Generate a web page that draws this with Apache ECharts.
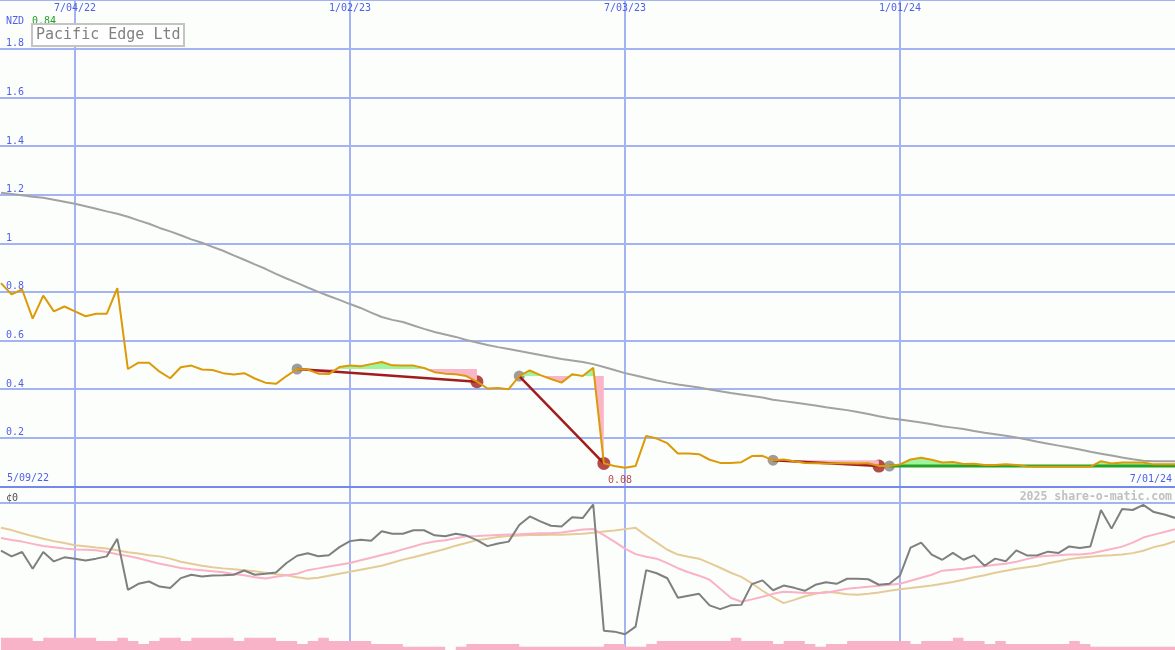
<!DOCTYPE html>
<html><head><meta charset="utf-8">
<script src="https://cdn.jsdelivr.net/npm/echarts@6/dist/echarts.min.js"></script>
<style>html,body{margin:0;padding:0;background:#fcfefb}#c{width:1175px;height:650px}</style>
</head><body><div id="c"></div>
<script>
// ---- data (weekly points, week 0 = 7/04/22) ----
const FIRST_WEEK = -7;
const PRICE = [
  0.836,0.79,0.81,0.69,0.785,0.72,0.74,0.72,0.70,0.71,
  0.71,0.815,0.483,0.509,0.509,0.472,0.445,0.49,0.497,0.481,
  0.479,0.466,0.46,0.466,0.444,0.427,0.422,0.454,0.483,0.481,
  0.464,0.462,0.491,0.497,0.494,0.503,0.512,0.498,0.497,0.497,
  0.487,0.47,0.464,0.461,0.454,0.431,0.403,0.405,0.40,0.454,
  0.477,0.458,0.442,0.427,0.461,0.454,0.488,0.095,0.084,0.077,
  0.084,0.208,0.197,0.178,0.136,0.136,0.133,0.110,0.097,0.097,
  0.10,0.125,0.126,0.108,0.111,0.104,0.097,0.096,0.095,0.096,
  0.096,0.095,0.096,0.084,0.084,0.091,0.111,0.118,0.110,0.099,
  0.101,0.093,0.094,0.088,0.088,0.091,0.088,0.082,0.081,0.081,
  0.081,0.081,0.081,0.081,0.104,0.095,0.099,0.099,0.099,0.091,
  0.091,0.091
];
const PRICE_MA = [
  1.208,1.203,1.197,1.191,1.187,1.179,1.171,1.162,1.152,1.142,
  1.131,1.121,1.109,1.094,1.080,1.063,1.049,1.033,1.016,1.002,
  0.985,0.969,0.950,0.932,0.913,0.895,0.874,0.855,0.837,0.818,
  0.800,0.783,0.767,0.750,0.734,0.715,0.697,0.685,0.676,0.662,
  0.648,0.635,0.625,0.615,0.602,0.592,0.582,0.573,0.565,0.557,
  0.549,0.541,0.532,0.524,0.518,0.512,0.503,0.491,0.479,0.466,
  0.456,0.446,0.436,0.427,0.419,0.413,0.407,0.399,0.392,0.384,
  0.378,0.372,0.366,0.357,0.351,0.345,0.339,0.333,0.326,0.320,
  0.314,0.306,0.298,0.289,0.281,0.275,0.269,0.263,0.256,0.248,
  0.242,0.236,0.228,0.221,0.215,0.209,0.201,0.193,0.184,0.176,
  0.168,0.160,0.152,0.143,0.135,0.127,0.119,0.112,0.106,0.104,
  0.104,0.104
];
const OSC = [
  -29.4,-32.9,-30.2,-40.5,-30.2,-36,-33.5,-34.3,-35.4,-34.3,
  -32.9,-22.1,-53.5,-49.8,-48.4,-51.5,-52.4,-46.3,-44.2,-45.3,
  -44.7,-44.5,-44.2,-41.6,-44.2,-43.6,-42.8,-37,-32.5,-31,
  -32.8,-32.2,-27.2,-23.5,-22.6,-23.2,-17.4,-18.9,-19,-16.8,
  -16.8,-19.9,-20.5,-18.9,-20.1,-22.9,-26.6,-25,-23.8,-13.6,
  -8.3,-11.3,-14,-14.5,-8.8,-9.3,-0.9,-78.7,-79.3,-80.9,
  -76.2,-41.4,-43.3,-46.4,-58.4,-57.2,-56,-63.1,-65.4,-63.1,
  -62.8,-50,-47.7,-53.8,-50.9,-52.3,-54.1,-50.4,-48.8,-49.8,
  -46.7,-46.7,-47,-50.4,-49.8,-44.7,-27.5,-24.4,-31.8,-35,
  -30.8,-35,-32.3,-38.7,-34.3,-35.9,-29.2,-32.3,-32.2,-30,
  -30.8,-26.8,-27.8,-26.8,-4.3,-15.8,-3.7,-4.3,-1.2,-5.6,
  -7.1,-9.2
];
const OSC_MA_FAST = [
  -21.6,-22.8,-23.8,-25.2,-26.5,-27.3,-28.1,-28.6,-28.8,-29.1,
  -30.2,-31.6,-32.7,-34.1,-35.7,-37.4,-38.7,-40.1,-40.9,-41.4,
  -42.0,-42.7,-43.7,-44.6,-45.8,-46.5,-45.5,-44.5,-43.6,-41.4,
  -40.3,-39.1,-38.0,-37.0,-35.3,-33.7,-32.1,-30.5,-28.6,-26.8,
  -24.9,-23.8,-22.9,-21.7,-20.5,-20.3,-20.0,-19.7,-19.4,-19.2,
  -18.9,-18.7,-18.6,-18.2,-17.3,-16.4,-16.1,-19.8,-23.8,-28.1,
  -31.5,-33.1,-34.3,-37.1,-40.2,-42.7,-44.8,-47.3,-52.9,-58.4,
  -60.9,-59.4,-57.8,-56.0,-54.7,-55.0,-55.5,-55.5,-55.3,-54.1,
  -52.9,-52.3,-51.6,-51.0,-50.4,-49.8,-47.9,-46.1,-44.2,-41.7,
  -41.1,-40.5,-39.6,-39.0,-38.0,-37.4,-36.2,-34.6,-33.1,-32.5,
  -32.2,-31.8,-31.8,-31.2,-29.7,-28.4,-26.9,-24.4,-21.3,-19.5,
  -17.9,-16.1
];
const OSC_MA_SLOW = [
  -15.2,-16.7,-18.6,-20.4,-22.0,-23.5,-24.7,-26.0,-26.6,-27.5,
  -28.1,-29.1,-30.3,-31.2,-32.2,-32.9,-34.3,-36.2,-37.4,-38.7,
  -39.6,-40.3,-40.8,-41.4,-42.1,-43.0,-43.9,-44.5,-45.8,-46.7,
  -46.1,-44.8,-43.6,-42.4,-41.1,-39.9,-38.7,-36.8,-34.9,-33.4,
  -31.8,-30.0,-28.4,-26.3,-24.7,-22.9,-22.0,-21.0,-20.4,-20.1,
  -19.8,-19.7,-19.6,-19.5,-19.2,-18.9,-18.4,-17.6,-17.0,-16.1,
  -15.3,-20.1,-24.4,-28.8,-31.8,-33.1,-34.3,-37.1,-39.9,-43.0,
  -45.5,-49.5,-54.1,-58.1,-61.7,-59.7,-57.5,-56.0,-54.7,-55.3,
  -56.3,-56.6,-56.0,-55.2,-54.1,-53.1,-52.4,-51.6,-50.9,-49.8,
  -48.7,-47.3,-45.8,-44.5,-43.0,-41.7,-40.5,-39.6,-38.7,-37.1,
  -35.9,-34.6,-33.7,-33.1,-32.5,-32.2,-31.8,-30.9,-29.4,-27.2,
  -25.7,-23.6
];
const VOLUME = [
  3.7,3.7,3.7,2.7,3.7,3.7,3.7,3.7,3.7,2.7,
  2.7,3.7,2.7,1.8,2.7,3.7,3.7,2.7,3.7,3.7,
  3.7,3.7,2.7,3.7,3.7,3.7,2.7,2.7,1.8,2.7,
  3.7,2.7,2.7,2.7,2.7,1.8,1.8,1.8,1.0,1.0,
  1.0,1.0,0,1.0,1.8,1.8,1.8,1.8,1.8,1.0,
  1.0,1.0,1.0,1.0,1.0,1.0,1.0,1.8,1.8,1.0,
  1.0,1.8,2.7,2.7,2.7,2.7,2.7,2.7,2.7,3.7,
  2.7,2.7,2.7,1.8,2.7,2.7,1.8,1.0,1.8,1.8,
  2.7,2.7,2.7,2.7,2.7,2.7,1.8,2.7,2.7,2.7,
  3.7,2.7,2.7,1.8,2.7,1.8,1.8,1.8,1.8,1.8,
  1.8,2.7,1.8,1.0,1.0,1.0,1.0,1.0,1.0,1.0,
  1.0,1.0
];
const TICK_WEEKS = [0, 26, 52, 78];
const TICK_LABELS = ['7/04/22', '1/02/23', '7/03/23', '1/01/24'];
const DATE_START = '5/09/22';
const DATE_END = '7/01/24';
const TRADE_ENTRY = [21, 42, 66, 77];
const TRADE_EXIT = [38, 50, 76, null];
const TITLE = 'Pacific Edge Ltd';
const CURRENCY = 'NZD';
const COPYRIGHT = '2025 share-o-matic.com';
const OSC_LABELS = {'0': '\u00a20', '-90': '-90'};

// ---- layout / style ----
const X_MIN = -7.09, X_MAX = 104;
const MAIN_TOP = 0, MAIN_H = 486.5;
const MONO = '"DejaVu Sans Mono", monospace';
const BLUE = '#4f5fe8', GRID_C = '#a4b3f4', AXIS_DARK = '#7887ec';
const PRICE_C = '#dc9a08', MA_GRAY = '#a2a2a2', DARK_RED = '#a11d1d';
const GREEN_FILL = '#9ef59e', PINK_FILL = '#fab6c9', GREEN_LINE = '#26a326';
const OSC_GRAY = '#7f7f7f', OSC_PINK = '#fab2c6', OSC_TAN = '#e5cb97', VOL_PINK = '#f8b3c8';

const pts = arr => arr.map((v, i) => [FIRST_WEEK + i, v]);
const priceAt = w => PRICE[w - FIRST_WEEK];
const LAST_WEEK = FIRST_WEEK + PRICE.length - 1;

const series = [];
const add = o => { series.push(Object.assign({animation: false, silent: true, symbol: 'none'}, o)); return series.length - 1; };

add({type: 'line', xAxisIndex: 3, yAxisIndex: 3, data: pts(VOLUME), step: 'end',
     lineStyle: {width: 0}, areaStyle: {color: VOL_PINK, opacity: 1}});
add({type: 'line', xAxisIndex: 2, yAxisIndex: 2, data: pts(OSC_MA_SLOW), lineStyle: {color: OSC_TAN, width: 2}});
add({type: 'line', xAxisIndex: 2, yAxisIndex: 2, data: pts(OSC_MA_FAST), lineStyle: {color: OSC_PINK, width: 2}});
add({type: 'line', xAxisIndex: 2, yAxisIndex: 2, data: pts(OSC), lineStyle: {color: OSC_GRAY, width: 2}});
add({type: 'line', xAxisIndex: 1, yAxisIndex: 1, data: pts(PRICE_MA), lineStyle: {color: MA_GRAY, width: 2}});

const fills = [];
TRADE_ENTRY.forEach((ew, t) => {
  const xw = TRADE_EXIT[t] == null ? LAST_WEEK : TRADE_EXIT[t];
  const level = priceAt(ew);
  const data = [];
  for (let w = ew; w <= xw; w++) data.push([w, priceAt(w)]);
  add({id: 'fill' + t, type: 'line', xAxisIndex: 1, yAxisIndex: 1, data,
    lineStyle: {width: 0}, areaStyle: {origin: level, opacity: 1, color: 'rgba(0,0,0,0)'}});
  fills.push({id: 'fill' + t, level, open: TRADE_EXIT[t] == null});
});
TRADE_ENTRY.forEach((ew, t) => {
  const xw = TRADE_EXIT[t];
  if (xw == null) {
    add({type: 'line', xAxisIndex: 1, yAxisIndex: 1,
      data: [[ew, priceAt(ew)], [LAST_WEEK, priceAt(ew)]], lineStyle: {color: GREEN_LINE, width: 3}});
  } else {
    add({type: 'line', xAxisIndex: 1, yAxisIndex: 1,
      data: [[ew, priceAt(ew)], [xw, priceAt(xw)]], lineStyle: {color: DARK_RED, width: 2.5}});
  }
});
add({type: 'line', xAxisIndex: 1, yAxisIndex: 1, data: pts(PRICE), lineStyle: {color: PRICE_C, width: 2}});
add({type: 'scatter', xAxisIndex: 1, yAxisIndex: 1, symbol: 'circle', symbolSize: 13,
  data: TRADE_EXIT.filter(w => w != null).map(w => [w, priceAt(w)]), itemStyle: {color: DARK_RED}});
add({type: 'scatter', xAxisIndex: 1, yAxisIndex: 1, symbol: 'circle', symbolSize: 11,
  data: TRADE_ENTRY.map(w => [w, priceAt(w)]), itemStyle: {color: '#858585'}});
let minI = 0; PRICE.forEach((v, i) => { if (v < PRICE[minI]) minI = i; });
add({type: 'scatter', xAxisIndex: 1, yAxisIndex: 1, symbol: 'circle', symbolSize: 0,
  data: [[FIRST_WEEK + minI, PRICE[minI]]],
  label: {show: true, position: 'bottom', distance: 8, offset: [-5, 0],
    formatter: p => p.value[1].toFixed(2), color: DARK_RED, fontFamily: MONO, fontSize: 10}});

const xBase = {type: 'value', min: X_MIN, max: X_MAX, axisLine: {show: false}, axisTick: {show: false},
  axisLabel: {show: false}, splitLine: {show: false}};
const noY = {type: 'value', show: false};

const option = {
  animation: false,
  backgroundColor: '#fcfefb',
  title: {text: TITLE, left: 32, top: 24, padding: [4, 4, 3, 4], borderColor: '#c4c4c4', borderWidth: 2,
    backgroundColor: '#ffffff',
    textStyle: {fontFamily: MONO, fontSize: 15, fontWeight: 'normal', color: '#808080'}},
  grid: [
    {left: 0, right: 0, top: 0, bottom: 0, containLabel: false, outerBoundsMode: 'none'},
    {left: 0, right: 0, top: MAIN_TOP, height: MAIN_H, containLabel: false, outerBoundsMode: 'none'},
    {left: 0, right: 0, top: 503, height: 146, containLabel: false, outerBoundsMode: 'none'},
    {left: 0, right: 0, top: 600, height: 50, containLabel: false, outerBoundsMode: 'none'}
  ],
  xAxis: [
    Object.assign({}, xBase, {gridIndex: 0, position: 'top',
      axisTick: {show: false, customValues: TICK_WEEKS},
      axisLabel: {show: true, inside: true, customValues: TICK_WEEKS, margin: 3,
        formatter: v => { const i = TICK_WEEKS.indexOf(v); return i < 0 ? '' : TICK_LABELS[i]; },
        color: BLUE, fontFamily: MONO, fontSize: 10},
      splitLine: {show: true, lineStyle: {color: GRID_C, width: 2}}}),
    Object.assign({}, xBase, {gridIndex: 1,
      axisLine: {show: true, onZero: false, lineStyle: {color: AXIS_DARK, width: 2}}}),
    Object.assign({}, xBase, {gridIndex: 2}),
    Object.assign({}, xBase, {gridIndex: 3})
  ],
  yAxis: [
    Object.assign({gridIndex: 0}, noY),
    {gridIndex: 1, type: 'value', min: 0, max: 2, interval: 0.2,
      axisLine: {show: false}, axisTick: {show: false},
      axisLabel: {inside: true, margin: 6, verticalAlign: 'bottom', color: BLUE, fontFamily: MONO, fontSize: 10,
        formatter: v => (v > 0.01 && v < 1.99) ? String(+v.toFixed(1)) : ''},
      splitLine: {show: true, showMinLine: false, lineStyle: {color: GRID_C, width: 2}}},
    {gridIndex: 2, type: 'value', min: -90, max: 0, interval: 90,
      axisLine: {show: false}, axisTick: {show: false},
      axisLabel: {inside: true, margin: 6, verticalAlign: 'bottom', color: '#505050', fontFamily: MONO, fontSize: 10,
        formatter: v => OSC_LABELS[String(Math.round(v))] || ''},
      splitLine: {show: true, showMinLine: false, lineStyle: {color: GRID_C, width: 2}}},
    Object.assign({gridIndex: 3, min: 0, max: 15}, noY)
  ],
  graphic: [
    {type: 'text', left: 6, top: 16, style: {text: CURRENCY, fill: BLUE, font: '10px ' + MONO}},
    {type: 'text', left: 32, top: 16, style: {text: PRICE[0].toFixed(2), fill: '#22a022', font: '10px ' + MONO}},
    {type: 'text', left: 7, top: 473, style: {text: DATE_START, fill: BLUE, font: '10px ' + MONO}},
    {type: 'text', right: 3, top: 474, style: {text: DATE_END, fill: BLUE, font: '10px ' + MONO}},
    {type: 'text', right: 3, top: 491, style: {text: COPYRIGHT, fill: '#c0c0c0', font: 'bold 11.5px ' + MONO}}
  ],
  series
};
const chart = echarts.init(document.getElementById('c'), null, {renderer: 'canvas'});
chart.setOption(option);

// colour each trade's fill green above its entry level, pink below (split at the level's pixel row)
const gTop = chart.convertToPixel({gridIndex: 1}, [0, 2])[1];
const gBot = chart.convertToPixel({gridIndex: 1}, [0, 0])[1];
chart.setOption({series: fills.map(f => {
  const yl = chart.convertToPixel({gridIndex: 1}, [0, f.level])[1];
  const off = Math.min(1, Math.max(0, (yl - gTop) / (gBot - gTop)));
  const below = f.open ? 'rgba(0,0,0,0)' : PINK_FILL;
  return {id: f.id, areaStyle: {origin: f.level, opacity: 1,
    color: new echarts.graphic.LinearGradient(0, gTop, 0, gBot, [
      {offset: 0, color: GREEN_FILL}, {offset: off, color: GREEN_FILL},
      {offset: off, color: below}, {offset: 1, color: below}], true)}};
})});
</script></body></html>
